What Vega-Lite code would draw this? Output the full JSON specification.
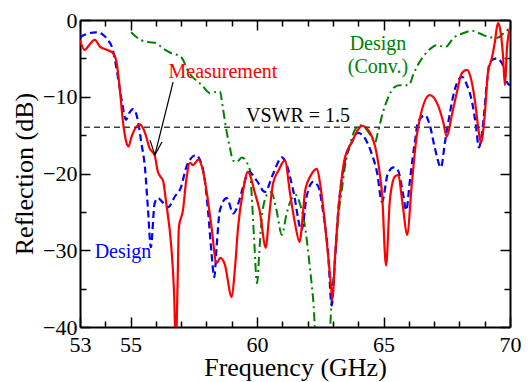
{
  "$schema": "https://vega.github.io/schema/vega-lite/v6.json",
  "width": 430,
  "height": 307,
  "autosize": {"type": "none"},
  "padding": {"left": 80, "top": 20, "right": 18, "bottom": 55},
  "background": "white",
  "config": {
    "view": {"stroke": null},
    "axis": {
      "grid": false,
      "domainColor": "black",
      "domainWidth": 2,
      "tickColor": "black",
      "tickWidth": 1.5,
      "labelFont": "Liberation Serif",
      "labelFontSize": 22,
      "labelColor": "black",
      "labelFlush": false,
      "labelOverlap": false,
      "titleFont": "Liberation Serif",
      "titleFontSize": 26,
      "titleFontWeight": "normal",
      "titleColor": "black"
    }
  },
  "datasets": {
    "measurement": [
      {"f": 53.0, "db": -2.6}, {"f": 53.18, "db": -3.9}, {"f": 53.38, "db": -3.2}, {"f": 53.58, "db": -2.6},
      {"f": 53.8, "db": -3.5}, {"f": 54.07, "db": -3.9}, {"f": 54.3, "db": -4.3}, {"f": 54.44, "db": -5.4},
      {"f": 54.57, "db": -8.9}, {"f": 54.7, "db": -13.3}, {"f": 54.83, "db": -15.9}, {"f": 54.92, "db": -16.5},
      {"f": 55.02, "db": -15.4}, {"f": 55.23, "db": -13.9}, {"f": 55.36, "db": -13.6}, {"f": 55.56, "db": -14.6},
      {"f": 55.75, "db": -16.7}, {"f": 55.95, "db": -17.6}, {"f": 56.08, "db": -19.8}, {"f": 56.18, "db": -20.4},
      {"f": 56.28, "db": -20.9}, {"f": 56.41, "db": -23.9}, {"f": 56.61, "db": -29.6}, {"f": 56.72, "db": -35.6},
      {"f": 56.79, "db": -43.0}, {"f": 56.85, "db": -35.6}, {"f": 56.91, "db": -27.0}, {"f": 57.07, "db": -24.8},
      {"f": 57.2, "db": -20.9}, {"f": 57.35, "db": -18.6}, {"f": 57.47, "db": -18.9}, {"f": 57.68, "db": -18.2},
      {"f": 57.85, "db": -19.5}, {"f": 58.0, "db": -22.2}, {"f": 58.2, "db": -27.0}, {"f": 58.4, "db": -31.7},
      {"f": 58.55, "db": -31.0}, {"f": 58.72, "db": -31.8}, {"f": 59.0, "db": -36.1}, {"f": 59.12, "db": -32.6},
      {"f": 59.25, "db": -27.0}, {"f": 59.45, "db": -22.2}, {"f": 59.64, "db": -19.8}, {"f": 59.92, "db": -22.6},
      {"f": 60.1, "db": -24.8}, {"f": 60.35, "db": -29.7}, {"f": 60.45, "db": -26.5}, {"f": 60.63, "db": -21.3},
      {"f": 60.85, "db": -19.6}, {"f": 61.1, "db": -18.3}, {"f": 61.3, "db": -22.5}, {"f": 61.5, "db": -26.5},
      {"f": 61.68, "db": -28.9}, {"f": 61.82, "db": -25.0}, {"f": 61.9, "db": -22.2}, {"f": 62.1, "db": -20.4},
      {"f": 62.37, "db": -19.4}, {"f": 62.5, "db": -21.5}, {"f": 62.65, "db": -25.5}, {"f": 62.8, "db": -30.4},
      {"f": 62.92, "db": -34.5}, {"f": 62.98, "db": -36.5}, {"f": 63.08, "db": -31.0}, {"f": 63.28, "db": -22.6},
      {"f": 63.45, "db": -18.3}, {"f": 63.75, "db": -15.9}, {"f": 64.15, "db": -13.8}, {"f": 64.45, "db": -14.6},
      {"f": 64.74, "db": -17.6}, {"f": 64.86, "db": -20.2}, {"f": 64.94, "db": -22.6}, {"f": 65.1, "db": -32.0},
      {"f": 65.25, "db": -23.5}, {"f": 65.45, "db": -20.4}, {"f": 65.57, "db": -20.2}, {"f": 65.77, "db": -24.4},
      {"f": 65.93, "db": -28.0}, {"f": 66.12, "db": -21.3}, {"f": 66.3, "db": -15.4}, {"f": 66.44, "db": -12.8},
      {"f": 66.83, "db": -9.8}, {"f": 67.15, "db": -11.1}, {"f": 67.36, "db": -13.3}, {"f": 67.5, "db": -15.2},
      {"f": 67.7, "db": -12.4}, {"f": 67.9, "db": -9.4}, {"f": 68.1, "db": -6.9}, {"f": 68.3, "db": -6.5},
      {"f": 68.42, "db": -7.2}, {"f": 68.62, "db": -10.7}, {"f": 68.73, "db": -13.7}, {"f": 68.85, "db": -16.0},
      {"f": 69.0, "db": -12.4}, {"f": 69.13, "db": -6.8}, {"f": 69.28, "db": -5.0}, {"f": 69.4, "db": -2.9},
      {"f": 69.52, "db": -0.4}, {"f": 69.6, "db": -1.0}, {"f": 69.72, "db": -4.5}, {"f": 69.8, "db": -8.5},
      {"f": 69.88, "db": -3.7}, {"f": 70.0, "db": -1.0}
    ],
    "design": [
      {"f": 53.0, "db": -2.3}, {"f": 53.2, "db": -1.9}, {"f": 53.63, "db": -1.6}, {"f": 53.9, "db": -1.9},
      {"f": 54.1, "db": -2.6}, {"f": 54.3, "db": -3.9}, {"f": 54.42, "db": -5.9}, {"f": 54.57, "db": -8.9},
      {"f": 54.68, "db": -11.1}, {"f": 54.82, "db": -13.0}, {"f": 54.95, "db": -12.1}, {"f": 55.1, "db": -11.6},
      {"f": 55.3, "db": -13.3}, {"f": 55.42, "db": -15.9}, {"f": 55.57, "db": -19.3}, {"f": 55.69, "db": -24.8},
      {"f": 55.8, "db": -29.6}, {"f": 55.95, "db": -23.9}, {"f": 56.08, "db": -23.2}, {"f": 56.28, "db": -23.8},
      {"f": 56.48, "db": -24.4}, {"f": 56.75, "db": -23.0}, {"f": 56.99, "db": -21.8}, {"f": 57.21, "db": -19.1},
      {"f": 57.58, "db": -17.6}, {"f": 57.87, "db": -19.6}, {"f": 58.07, "db": -25.2}, {"f": 58.2, "db": -30.4},
      {"f": 58.31, "db": -33.5}, {"f": 58.4, "db": -29.6}, {"f": 58.53, "db": -24.8}, {"f": 58.8, "db": -23.2},
      {"f": 59.06, "db": -25.2}, {"f": 59.26, "db": -23.9}, {"f": 59.45, "db": -21.7}, {"f": 59.68, "db": -19.8},
      {"f": 59.98, "db": -20.9}, {"f": 60.31, "db": -22.4}, {"f": 60.64, "db": -20.0}, {"f": 60.98, "db": -17.9},
      {"f": 61.1, "db": -18.3}, {"f": 61.43, "db": -22.2}, {"f": 61.76, "db": -27.4}, {"f": 61.96, "db": -23.0},
      {"f": 62.22, "db": -21.1}, {"f": 62.42, "db": -21.7}, {"f": 62.62, "db": -25.2}, {"f": 62.81, "db": -30.4},
      {"f": 62.95, "db": -37.2}, {"f": 63.08, "db": -31.3}, {"f": 63.21, "db": -24.8}, {"f": 63.34, "db": -20.9},
      {"f": 63.5, "db": -18.0}, {"f": 63.7, "db": -16.3}, {"f": 63.99, "db": -14.7}, {"f": 64.26, "db": -15.4},
      {"f": 64.55, "db": -17.6}, {"f": 64.74, "db": -19.8}, {"f": 64.94, "db": -23.7}, {"f": 65.17, "db": -20.0},
      {"f": 65.4, "db": -19.2}, {"f": 65.57, "db": -19.6}, {"f": 65.77, "db": -22.6}, {"f": 65.9, "db": -24.8},
      {"f": 66.03, "db": -21.3}, {"f": 66.15, "db": -18.0}, {"f": 66.24, "db": -15.9}, {"f": 66.36, "db": -13.3},
      {"f": 66.64, "db": -12.4}, {"f": 66.83, "db": -13.7}, {"f": 67.03, "db": -16.7}, {"f": 67.27, "db": -19.2},
      {"f": 67.43, "db": -15.9}, {"f": 67.63, "db": -12.0}, {"f": 67.83, "db": -8.9}, {"f": 68.1, "db": -7.4},
      {"f": 68.3, "db": -8.5}, {"f": 68.5, "db": -10.7}, {"f": 68.65, "db": -13.7}, {"f": 68.77, "db": -16.6},
      {"f": 68.93, "db": -13.7}, {"f": 69.09, "db": -8.1}, {"f": 69.2, "db": -5.5}, {"f": 69.48, "db": -5.0},
      {"f": 69.72, "db": -5.9}, {"f": 69.88, "db": -8.1}, {"f": 70.0, "db": -8.5}
    ],
    "conventional": [
      {"f": 55.02, "db": -1.6}, {"f": 55.4, "db": -2.6}, {"f": 55.77, "db": -2.9}, {"f": 56.0, "db": -3.0},
      {"f": 56.28, "db": -3.7}, {"f": 56.6, "db": -4.3}, {"f": 56.99, "db": -4.8}, {"f": 57.3, "db": -6.8},
      {"f": 57.82, "db": -8.5}, {"f": 58.14, "db": -9.5}, {"f": 58.53, "db": -9.3}, {"f": 58.65, "db": -11.5},
      {"f": 58.8, "db": -14.6}, {"f": 58.93, "db": -16.7}, {"f": 59.05, "db": -18.3}, {"f": 59.2, "db": -18.5},
      {"f": 59.4, "db": -17.9}, {"f": 59.6, "db": -18.6}, {"f": 59.72, "db": -19.6}, {"f": 59.8, "db": -23.5},
      {"f": 59.88, "db": -28.3}, {"f": 60.0, "db": -34.3}, {"f": 60.1, "db": -29.6}, {"f": 60.22, "db": -24.8},
      {"f": 60.43, "db": -22.6}, {"f": 60.56, "db": -22.4}, {"f": 60.77, "db": -24.8}, {"f": 60.98, "db": -28.0},
      {"f": 61.17, "db": -25.2}, {"f": 61.42, "db": -23.0}, {"f": 61.53, "db": -22.8}, {"f": 61.69, "db": -23.9},
      {"f": 61.9, "db": -27.0}, {"f": 62.1, "db": -32.6}, {"f": 62.22, "db": -36.5}, {"f": 62.36, "db": -43.0},
      {"f": 62.82, "db": -43.0}, {"f": 62.95, "db": -36.5}, {"f": 63.08, "db": -31.3}, {"f": 63.2, "db": -26.0},
      {"f": 63.35, "db": -22.2}, {"f": 63.47, "db": -19.2}, {"f": 63.7, "db": -15.9}, {"f": 63.87, "db": -14.3},
      {"f": 64.07, "db": -13.7}, {"f": 64.34, "db": -14.3}, {"f": 64.55, "db": -15.4}, {"f": 64.66, "db": -16.0},
      {"f": 64.78, "db": -14.6}, {"f": 64.98, "db": -12.0}, {"f": 65.17, "db": -10.2}, {"f": 65.45, "db": -8.7},
      {"f": 65.65, "db": -8.5}, {"f": 66.0, "db": -8.5}, {"f": 66.2, "db": -6.9}, {"f": 66.48, "db": -5.2},
      {"f": 66.87, "db": -3.7}, {"f": 67.1, "db": -3.3}, {"f": 67.45, "db": -3.5}, {"f": 67.78, "db": -2.3},
      {"f": 68.17, "db": -1.7}, {"f": 68.5, "db": -1.4}, {"f": 68.97, "db": -2.0}, {"f": 69.36, "db": -2.3},
      {"f": 69.5, "db": -2.3}, {"f": 69.76, "db": -1.7}, {"f": 70.0, "db": -1.0}
    ],
    "arrow": [
      {"f": 56.68, "db": -8.1, "f2": 55.96, "db2": -17.6},
      {"f": 55.77, "db": -15.65, "f2": 55.96, "db2": -17.6},
      {"f": 56.24, "db": -15.9, "f2": 55.96, "db2": -17.6}
    ]
  },
  "encoding": {
    "x": {"field": "f", "type": "quantitative", "scale": {"domain": [53, 70], "nice": false, "zero": false}},
    "y": {"field": "db", "type": "quantitative", "scale": {"domain": [-40, 0], "nice": false, "zero": false}}
  },
  "resolve": {"axis": {"x": "independent", "y": "independent"}},
  "layer": [
    {
      "data": {"name": "conventional"},
      "mark": {"type": "line", "clip": true, "interpolate": "monotone", "color": "#008000", "strokeWidth": 2, "strokeDash": [9, 4, 2, 4]},
      "encoding": {
        "x": {"field": "f", "type": "quantitative", "title": "Frequency (GHz)",
          "axis": {"orient": "bottom", "values": [53, 54, 55, 56, 57, 58, 59, 60, 61, 62, 63, 64, 65, 66, 67, 68, 69, 70],
            "labelExpr": "datum.value % 5 === 0 || datum.value === 53 ? datum.label : ''",
            "tickSize": {"condition": {"test": "datum.value % 5 === 0 || datum.value === 53", "value": -10}, "value": -6},
            "labelPadding": 17, "titlePadding": -5}},
        "y": {"field": "db", "type": "quantitative", "title": "Reflection (dB)",
          "axis": {"orient": "left", "values": [-40, -35, -30, -25, -20, -15, -10, -5, 0],
            "labelExpr": "datum.value % 10 === 0 ? datum.label : ''",
            "tickSize": {"condition": {"test": "datum.value % 10 === 0", "value": -10}, "value": -6},
            "labelPadding": 13, "titlePadding": 5}}
      }
    },
    {
      "data": {"name": "design"},
      "mark": {"type": "line", "clip": true, "interpolate": "monotone", "color": "#0000ff", "strokeWidth": 2.2, "strokeDash": [7, 4]},
      "encoding": {
        "x": {"field": "f", "type": "quantitative", "title": null,
          "axis": {"orient": "top", "labels": false, "values": [53, 54, 55, 56, 57, 58, 59, 60, 61, 62, 63, 64, 65, 66, 67, 68, 69, 70],
            "tickSize": {"condition": {"test": "datum.value % 5 === 0", "value": -10}, "value": -6}}},
        "y": {"field": "db", "type": "quantitative", "title": null,
          "axis": {"orient": "right", "labels": false, "values": [-40, -35, -30, -25, -20, -15, -10, -5, 0],
            "tickSize": {"condition": {"test": "datum.value % 10 === 0", "value": -10}, "value": -6}}}
      }
    },
    {
      "data": {"name": "measurement"},
      "mark": {"type": "line", "clip": true, "interpolate": "monotone", "color": "#ff0000", "strokeWidth": 2.2},
      "encoding": {
        "x": {"field": "f", "type": "quantitative", "axis": null},
        "y": {"field": "db", "type": "quantitative", "axis": null}
      }
    },
    {
      "data": {"values": [{"db": -13.98}]},
      "mark": {"type": "rule", "color": "#404040", "strokeWidth": 1.5, "strokeDash": [6, 4]},
      "encoding": {
        "x": null,
        "y": {"field": "db", "type": "quantitative", "axis": null}
      }
    },
    {
      "data": {"name": "arrow"},
      "mark": {"type": "rule", "color": "black", "strokeWidth": 1.2},
      "encoding": {
        "x": {"field": "f", "type": "quantitative", "axis": null},
        "y": {"field": "db", "type": "quantitative", "axis": null},
        "x2": {"field": "f2"},
        "y2": {"field": "db2"}
      }
    },
    {
      "data": {"values": [{"f": 61.62, "db": -13.26, "label": "VSWR = 1.5"}]},
      "mark": {"type": "text", "font": "Liberation Serif", "fontSize": 20, "color": "black", "align": "center", "baseline": "alphabetic"},
      "encoding": {
        "x": {"field": "f", "type": "quantitative", "axis": null},
        "y": {"field": "db", "type": "quantitative", "axis": null},
        "text": {"field": "label"}
      }
    },
    {
      "data": {"values": [{"f": 58.65, "db": -7.56, "label": "Measurement"}]},
      "mark": {"type": "text", "font": "Liberation Serif", "fontSize": 20, "color": "#ff0000", "align": "center", "baseline": "alphabetic"},
      "encoding": {
        "x": {"field": "f", "type": "quantitative", "axis": null},
        "y": {"field": "db", "type": "quantitative", "axis": null},
        "text": {"field": "label"}
      }
    },
    {
      "data": {"values": [{"f": 54.7, "db": -31.0, "label": "Design"}]},
      "mark": {"type": "text", "font": "Liberation Serif", "fontSize": 20, "color": "#0000ff", "align": "center", "baseline": "alphabetic"},
      "encoding": {
        "x": {"field": "f", "type": "quantitative", "axis": null},
        "y": {"field": "db", "type": "quantitative", "axis": null},
        "text": {"field": "label"}
      }
    },
    {
      "data": {"values": [{"f": 64.78, "db": -3.9, "label": "Design"}, {"f": 64.78, "db": -6.9, "label": "(Conv.)"}]},
      "mark": {"type": "text", "font": "Liberation Serif", "fontSize": 20, "color": "#008000", "align": "center", "baseline": "alphabetic"},
      "encoding": {
        "x": {"field": "f", "type": "quantitative", "axis": null},
        "y": {"field": "db", "type": "quantitative", "axis": null},
        "text": {"field": "label"}
      }
    }
  ]
}
